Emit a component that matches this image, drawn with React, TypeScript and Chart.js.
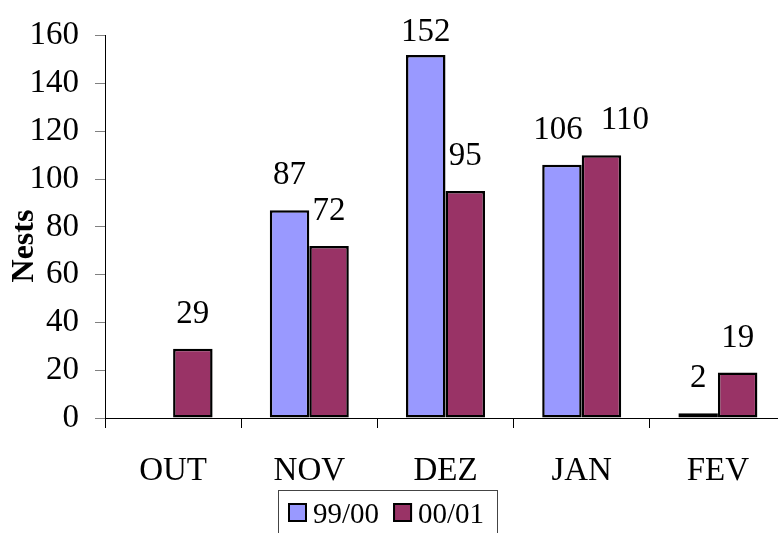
import React, { useEffect, useRef } from "react";
import { Chart, registerables } from "chart.js";

Chart.register(...registerables);

const categories = ["OUT", "NOV", "DEZ", "JAN", "FEV"];
const seriesLabels = ["99/00", "00/01"];
const series9900: (number | null)[] = [null, 87, 152, 106, 2];
const series0001: (number | null)[] = [29, 72, 95, 110, 19];
const yMin = 0;
const yMax = 160;
const yStep = 20;
const yTitle = "Nests";

const colors = ["#9999FF", "#993366"];
const FONT = "'Liberation Serif', 'Times New Roman', serif";

const valueLabelPlugin = {
  id: "valueLabels",
  afterDatasetsDraw(chart: any) {
    const ctx = chart.ctx;
    ctx.save();
    ctx.font = `33px ${FONT}`;
    ctx.fillStyle = "#000";
    ctx.textAlign = "center";
    ctx.textBaseline = "alphabetic";
    const n = chart.data.labels.length;
    for (let i = 0; i < n; i++) {
      const items: { text: string; x: number; y: number; w: number }[] = [];
      chart.data.datasets.forEach((ds: any, di: number) => {
        const v = ds.data[i];
        if (v === null || v === undefined) return;
        const el = chart.getDatasetMeta(di).data[i];
        const text = String(v);
        items.push({
          text,
          x: el.x,
          y: Math.max(el.y - 26, chart.chartArea.top + 5),
          w: ctx.measureText(text).width,
        });
      });
      for (let k = 1; k < items.length; k++) {
        const a = items[k - 1];
        const b = items[k];
        const gap = b.x - b.w / 2 - (a.x + a.w / 2);
        if (gap < 0 && Math.abs(a.y - b.y) < 25) {
          a.x -= 4;
          b.x = a.x + a.w / 2 + 18 + b.w / 2;
        }
      }
      items.forEach((it) => ctx.fillText(it.text, it.x, it.y));
    }
    ctx.restore();
  },
};

const extrasPlugin = {
  id: "extras",
  afterDraw(chart: any) {
    const ctx = chart.ctx;
    ctx.save();
    // y-axis title
    ctx.font = `bold 32px ${FONT}`;
    ctx.fillStyle = "#000";
    ctx.textAlign = "center";
    ctx.textBaseline = "alphabetic";
    ctx.translate(33, 246);
    ctx.rotate(-Math.PI / 2);
    ctx.fillText(yTitle, 0, 0);
    ctx.restore();

    // legend
    ctx.save();
    ctx.strokeStyle = "#444";
    ctx.lineWidth = 1;
    ctx.strokeRect(278.5, 490.5, 219, 60);
    ctx.font = `29px ${FONT}`;
    ctx.textAlign = "left";
    ctx.textBaseline = "alphabetic";
    let x = 288;
    chart.data.datasets.forEach((ds: any) => {
      ctx.fillStyle = ds.backgroundColor;
      ctx.fillRect(x, 503, 19, 19);
      ctx.strokeStyle = "#000";
      ctx.lineWidth = 2;
      ctx.strokeRect(x + 1, 504, 17, 17);
      ctx.fillStyle = "#000";
      ctx.fillText(ds.label, x + 25, 523);
      x += 25 + ctx.measureText(ds.label).width + 14;
    });
    ctx.restore();
  },
};

export default function App() {
  const ref = useRef<HTMLCanvasElement | null>(null);
  useEffect(() => {
    if (!ref.current) return;
    const chart = new Chart(ref.current, {
      type: "bar",
      data: {
        labels: categories,
        datasets: [
          {
            label: seriesLabels[0],
            data: series9900,
            backgroundColor: colors[0],
            borderColor: "#000",
            borderWidth: 2.5,
            borderSkipped: false,
          },
          {
            label: seriesLabels[1],
            data: series0001,
            backgroundColor: colors[1],
            borderColor: "#000",
            borderWidth: 2.5,
            borderSkipped: false,
          },
        ],
      },
      options: {
        responsive: false,
        animation: false,
        devicePixelRatio: 1,
        layout: { padding: { top: 32, right: 14, left: 0, bottom: 0 } },
        datasets: { bar: { categoryPercentage: 0.58, barPercentage: 1 } },
        plugins: {
          legend: { display: false },
          tooltip: { enabled: false },
        },
        scales: {
          x: {
            afterFit(scale: any) {
              scale.height = 115;
            },
            grid: {
              offset: true,
              drawOnChartArea: false,
              drawTicks: true,
              tickLength: 10,
              color: "#000",
            },
            border: { color: "#000", width: 1 },
            ticks: {
              color: "#000",
              font: { family: FONT, size: 33 },
              padding: 24,
              maxRotation: 0,
            },
          },
          y: {
            min: yMin,
            max: yMax,
            afterFit(scale: any) {
              scale.width = 105;
            },
            grid: {
              drawOnChartArea: false,
              drawTicks: true,
              tickLength: 10,
              color: "#808080",
            },
            border: { color: "#000", width: 1 },
            ticks: {
              stepSize: yStep,
              color: "#000",
              font: { family: FONT, size: 33 },
              padding: 16,
            },
          },
        },
      },
      plugins: [valueLabelPlugin, extrasPlugin],
    });
    return () => chart.destroy();
  }, []);

  return (
    <div
      style={{
        position: "absolute",
        left: 0,
        top: 0,
        width: 778,
        height: 533,
        overflow: "hidden",
        background: "#fff",
      }}
    >
      <canvas
        ref={ref}
        width={800}
        height={533}
        style={{ display: "block", width: 800, height: 533 }}
      />
    </div>
  );
}
